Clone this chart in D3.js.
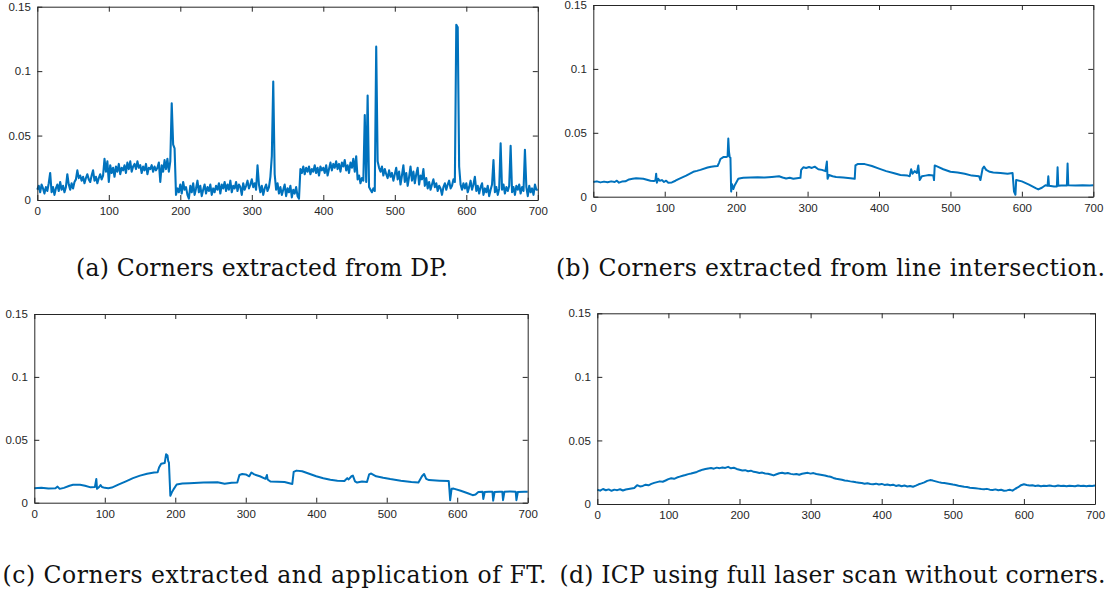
<!DOCTYPE html>
<html>
<head>
<meta charset="utf-8">
<script src="https://cdn.jsdelivr.net/npm/d3@7/dist/d3.min.js"></script>
<style>
  body { margin: 0; background: #fff; }
  svg { display: block; }
  .caption { font-family: "DejaVu Serif", serif; }
  .tick text { font-family: "Liberation Sans", Arial, Helvetica, sans-serif; }
</style>
</head>
<body>
<svg id="chart" width="1110" height="596"></svg>
<script>
// axis ticks shared by the four panels
var xTicks = [0, 100, 200, 300, 400, 500, 600, 700];
var yTicks = [0, 0.05, 0.1, 0.15];
var yTickLabels = ["0", "0.05", "0.1", "0.15"];

var captions = [
  "(a) Corners extracted from DP.",
  "(b) Corners extracted from line intersection.",
  "(c) Corners extracted and application of FT.",
  "(d) ICP using full laser scan without corners."
];

// (a) one value every 2 scans
var dpStep = 2;
var dpError = [
  0.008, 0.011, 0.006, 0.012, 0.009, 0.005, 0.010, 0.007, 0.013, 0.021,
  0.006, 0.010, 0.004, 0.009, 0.012, 0.007, 0.014, 0.008, 0.011, 0.006,
  0.010, 0.020, 0.012, 0.008, 0.013, 0.009, 0.014, 0.016, 0.023, 0.017,
  0.019, 0.015, 0.018, 0.013, 0.017, 0.020, 0.016, 0.014, 0.019, 0.023,
  0.015, 0.018, 0.013, 0.017, 0.020, 0.016, 0.019, 0.032, 0.022, 0.030,
  0.014, 0.027, 0.021, 0.025, 0.018, 0.026, 0.022, 0.028, 0.020, 0.025,
  0.023, 0.027, 0.021, 0.029, 0.024, 0.030, 0.022, 0.026, 0.028, 0.024,
  0.030, 0.025, 0.027, 0.021, 0.026, 0.023, 0.028, 0.020, 0.025, 0.024,
  0.027, 0.022, 0.026, 0.023, 0.025, 0.029, 0.014, 0.027, 0.022, 0.031,
  0.024, 0.032, 0.022, 0.030, 0.075, 0.043, 0.040, 0.004, 0.009, 0.006,
  0.012, 0.005, 0.014, 0.008, 0.010, 0.004, 0.001, 0.011, 0.006, 0.013,
  0.004, 0.009, 0.015, 0.006, 0.011, 0.003, 0.008, 0.012, 0.005, 0.010,
  0.007, 0.012, 0.004, 0.009, 0.006, 0.011, 0.008, 0.013, 0.005, 0.012,
  0.009, 0.014, 0.007, 0.012, 0.008, 0.015, 0.006, 0.011, 0.009, 0.014,
  0.007, 0.012, 0.010, 0.004, 0.013, 0.008, 0.011, 0.015, 0.009, 0.012,
  0.016, 0.010, 0.013, 0.008, 0.027, 0.012, 0.006, 0.011, 0.004, 0.009,
  0.012, 0.007, 0.010, 0.018, 0.034, 0.092, 0.020, 0.008, 0.013, 0.005,
  0.010, 0.004, 0.008, 0.012, 0.003, 0.009, 0.006, 0.011, 0.002, 0.008,
  0.005, 0.010, 0.003, 0.001, 0.024, 0.021, 0.026, 0.020, 0.025, 0.022,
  0.026, 0.020, 0.024, 0.022, 0.027, 0.021, 0.025, 0.019, 0.026, 0.023,
  0.025, 0.021, 0.027, 0.019, 0.024, 0.029, 0.023, 0.028, 0.025, 0.030,
  0.024, 0.028, 0.022, 0.029, 0.026, 0.031, 0.023, 0.027, 0.021, 0.029,
  0.025, 0.032, 0.022, 0.034, 0.016, 0.019, 0.013, 0.017, 0.015, 0.066,
  0.014, 0.081, 0.010, 0.008, 0.006, 0.009, 0.007, 0.119, 0.030, 0.025,
  0.022, 0.026, 0.019, 0.024, 0.020, 0.017, 0.023, 0.018, 0.021, 0.015,
  0.020, 0.025, 0.016, 0.022, 0.012, 0.019, 0.027, 0.014, 0.021, 0.011,
  0.018, 0.026, 0.015, 0.022, 0.013, 0.020, 0.025, 0.012, 0.019, 0.016,
  0.024, 0.011, 0.017, 0.009, 0.014, 0.008, 0.012, 0.016, 0.010, 0.013,
  0.007, 0.011, 0.009, 0.004, 0.010, 0.013, 0.008, 0.012, 0.015, 0.009,
  0.011, 0.016, 0.014, 0.136, 0.134, 0.026, 0.012, 0.008, 0.013, 0.009,
  0.013, 0.006, 0.010, 0.015, 0.008, 0.012, 0.018, 0.007, 0.011, 0.005,
  0.010, 0.013, 0.004, 0.009, 0.006, 0.011, 0.003, 0.008, 0.012, 0.031,
  0.006, 0.010, 0.004, 0.009, 0.044, 0.008, 0.012, 0.005, 0.010, 0.007,
  0.011, 0.042, 0.006, 0.010, 0.004, 0.011, 0.008, 0.012, 0.005, 0.010,
  0.007, 0.039, 0.010, 0.003, 0.011, 0.006, 0.009, 0.004, 0.012, 0.008,
  0.008
];

// (b) [scan, error]
var lineInterPoints = [
  [0,0.0115],[5,0.012],[10,0.0112],[15,0.0118],[20,0.0113],[25,0.012],[30,0.0115],
  [33,0.0125],[36,0.011],[40,0.0118],[45,0.012],[50,0.0135],[55,0.014],[60,0.0145],
  [65,0.0143],[70,0.014],[75,0.0133],[80,0.0125],[85,0.0123],[87,0.0128],[88,0.018],
  [89,0.011],[91,0.014],[93,0.0125],[96,0.013],[99,0.0115],[102,0.0125],[105,0.011],
  [110,0.0112],[115,0.0125],[120,0.014],[130,0.0165],[140,0.0195],[145,0.0202],
  [150,0.021],[160,0.0228],[165,0.0235],[170,0.0238],[174,0.024],[176,0.0265],
  [178,0.0295],[182,0.031],[186,0.031],[188,0.0315],[189,0.0455],[190,0.035],
  [191,0.031],[192,0.0305],[193,0.004],[194,0.010],[196,0.006],[198,0.009],
  [200,0.011],[203,0.014],[206,0.0145],[210,0.0148],[220,0.015],[230,0.0152],
  [240,0.015],[250,0.0155],[260,0.016],[265,0.015],[270,0.0142],[275,0.0148],
  [280,0.014],[285,0.0145],[290,0.0148],[291,0.021],[294,0.023],[298,0.0225],
  [302,0.0232],[306,0.0225],[310,0.0235],[315,0.0215],[320,0.021],[325,0.02],
  [327,0.0275],[328,0.014],[330,0.017],[335,0.016],[340,0.0155],[350,0.015],
  [360,0.0145],[366,0.014],[367,0.0245],[370,0.0255],[380,0.0255],[390,0.024],
  [400,0.022],[410,0.02],[420,0.0185],[430,0.017],[440,0.0165],[443,0.016],
  [445,0.0215],[447,0.018],[450,0.02],[453,0.0185],[455,0.0245],[457,0.013],
  [460,0.016],[465,0.0165],[470,0.017],[476,0.0165],[477,0.013],[478,0.0245],
  [482,0.0235],[490,0.0215],[500,0.0195],[510,0.019],[520,0.018],[530,0.0165],
  [540,0.016],[542,0.013],[545,0.022],[547,0.0235],[550,0.021],[555,0.0195],
  [560,0.019],[570,0.0185],[580,0.018],[587,0.0185],[589,0.004],[591,0.0015],
  [592,0.013],[600,0.012],[610,0.0095],[620,0.0065],[623,0.0057],[628,0.007],
  [633,0.009],[636,0.0085],[637,0.016],[638,0.0085],[645,0.008],[649,0.008],
  [650,0.023],[651,0.0085],[655,0.0088],[663,0.0088],[664,0.026],[665,0.009],
  [675,0.0088],[685,0.009],[695,0.0088],[700,0.009]
];

// (c) [scan, error]
var ftPoints = [
  [0,0.0115],[10,0.0118],[20,0.0112],[30,0.0115],[33,0.0128],[36,0.011],[42,0.0118],
  [50,0.0135],[55,0.0142],[65,0.0143],[72,0.0135],[80,0.0122],[86,0.0125],[88,0.0188],
  [89,0.011],[92,0.0125],[94,0.014],[96,0.0125],[100,0.0118],[105,0.0115],[110,0.012],
  [120,0.0145],[130,0.017],[140,0.0195],[150,0.0215],[160,0.023],[170,0.024],
  [175,0.0242],[177,0.028],[180,0.031],[185,0.0315],[187,0.0385],[189,0.0375],
  [190,0.033],[191,0.032],[193,0.0055],[195,0.008],[198,0.011],[202,0.0145],
  [210,0.0152],[220,0.0155],[240,0.016],[260,0.0162],[270,0.015],[280,0.0158],
  [288,0.016],[291,0.022],[295,0.0228],[300,0.0225],[305,0.021],[308,0.024],
  [312,0.0225],[320,0.021],[328,0.019],[330,0.022],[331,0.0185],[335,0.0168],
  [345,0.0167],[355,0.0165],[366,0.0148],[368,0.0245],[372,0.0255],[380,0.025],
  [390,0.023],[400,0.021],[410,0.0195],[420,0.0182],[430,0.0175],[440,0.0172],
  [444,0.0195],[446,0.0185],[450,0.021],[452,0.0215],[455,0.017],[458,0.016],
  [465,0.0168],[472,0.0165],[475,0.0225],[478,0.0232],[485,0.021],[495,0.0198],
  [505,0.0188],[520,0.0175],[535,0.0165],[545,0.016],[550,0.021],[553,0.0228],
  [556,0.019],[560,0.018],[575,0.0175],[588,0.0172],[589,0.010],[590,0.002],
  [592,0.011],[595,0.0112],[605,0.0095],[615,0.0075],[622,0.006],[626,0.0065],
  [630,0.0085],[636,0.0088],[637,0.003],[639,0.0085],[645,0.0087],[650,0.0087],
  [651,0.0016],[653,0.0085],[660,0.0088],[664,0.0088],[665,0.002],[667,0.0088],
  [675,0.009],[683,0.0088],[684,0.002],[686,0.0085],[695,0.0088],[700,0.0088]
];

// (d) one value every 4 scans
var icpStep = 4;
var icpError = [
  0.0112, 0.0105, 0.0118, 0.0108, 0.0115, 0.0104, 0.0113, 0.0109, 0.0116, 0.0106,
  0.0114, 0.0118, 0.0122, 0.0126, 0.0148, 0.0138, 0.0142, 0.0152, 0.0147, 0.0158,
  0.0166, 0.0172, 0.0178, 0.0175, 0.0185, 0.0196, 0.0203, 0.0198, 0.0208, 0.0215,
  0.0222, 0.0228, 0.0235, 0.0240, 0.0246, 0.0252, 0.0262, 0.0270, 0.0275, 0.0280,
  0.0283, 0.0278, 0.0286, 0.0282, 0.0287, 0.0284, 0.0292, 0.0281, 0.0285, 0.0276,
  0.0270, 0.0264, 0.0266, 0.0258, 0.0262, 0.0253, 0.0250, 0.0244, 0.0247, 0.0240,
  0.0238, 0.0232, 0.0225, 0.0234, 0.0242, 0.0246, 0.0240, 0.0244, 0.0237, 0.0233,
  0.0236, 0.0230, 0.0238, 0.0242, 0.0245, 0.0239, 0.0243, 0.0236, 0.0232, 0.0228,
  0.0224, 0.0218, 0.0214, 0.0205, 0.0198, 0.0194, 0.0190, 0.0185, 0.0182, 0.0178,
  0.0175, 0.0171, 0.0168, 0.0165, 0.0160, 0.0163, 0.0158, 0.0155, 0.0160, 0.0154,
  0.0158, 0.0150, 0.0154, 0.0147, 0.0152, 0.0142, 0.0148, 0.0140, 0.0145, 0.0138,
  0.0142, 0.0136, 0.0145, 0.0155, 0.0162, 0.0170, 0.0182, 0.0188, 0.0184, 0.0178,
  0.0172, 0.0168, 0.0165, 0.0162, 0.0158, 0.0153, 0.0150, 0.0144, 0.0140, 0.0136,
  0.0133, 0.0128, 0.0126, 0.0124, 0.0121, 0.0118, 0.0116, 0.0119, 0.0113, 0.0110,
  0.0115, 0.0108, 0.0112, 0.0104, 0.0107, 0.0112, 0.0105, 0.0120, 0.0132, 0.0148,
  0.0155, 0.0150, 0.0146, 0.0148, 0.0142, 0.0145, 0.0140, 0.0144, 0.0141, 0.0146,
  0.0142, 0.0140, 0.0145, 0.0141, 0.0143, 0.0139, 0.0144, 0.0142, 0.0140, 0.0145,
  0.0141, 0.0143, 0.0139, 0.0144, 0.0142, 0.0145
];

function stepped(values, step) {
  return values.map(function(v, i) { return [i * step, v]; });
}

var panels = [
  {data: stepped(dpError, dpStep), box: [37.3, 6.7, 537.8, 200], lw: 2.1,
   caption: captions[0], cx: 262, cy: 276, cw: 372},
  {data: lineInterPoints, box: [593.3, 5, 1093.3, 196.7], lw: 2,
   caption: captions[1], cx: 830.5, cy: 276, cw: 549},
  {data: ftPoints, box: [34.3, 314, 527.7, 502.7], lw: 2,
   caption: captions[2], cx: 274.5, cy: 583, cw: 544},
  {data: stepped(icpError, icpStep), box: [597.3, 313.3, 1095, 504], lw: 2,
   caption: captions[3], cx: 832.5, cy: 583, cw: 546}
];

var svg = d3.select("#chart");
var axisColor = "#262626";

panels.forEach(function(p) {
  var x = d3.scaleLinear().domain([0, 700]).range([p.box[0], p.box[2]]);
  var y = d3.scaleLinear().domain([0, 0.15]).range([p.box[3], p.box[1]]);
  var g = svg.append("g");

  var line = d3.line()
    .x(function(d) { return x(d[0]); })
    .y(function(d) { return y(d[1]); });

  g.append("path")
    .datum(p.data)
    .attr("fill", "none")
    .attr("stroke", "#0072BD")
    .attr("stroke-width", p.lw)
    .attr("stroke-linejoin", "round")
    .attr("d", line);

  var bottom = g.append("g")
    .attr("transform", "translate(0," + p.box[3] + ")")
    .call(d3.axisBottom(x).tickValues(xTicks).tickSizeInner(-5).tickSizeOuter(0).tickPadding(7.3));
  var left = g.append("g")
    .attr("transform", "translate(" + p.box[0] + ",0)")
    .call(d3.axisLeft(y).tickValues(yTicks).tickSizeInner(-5).tickSizeOuter(0).tickPadding(6.5)
      .tickFormat(function(d, i) { return yTickLabels[i]; }));
  var top = g.append("g")
    .attr("transform", "translate(0," + p.box[1] + ")")
    .call(d3.axisTop(x).tickValues(xTicks).tickSizeInner(-5).tickSizeOuter(0).tickFormat(""));
  var right = g.append("g")
    .attr("transform", "translate(" + p.box[2] + ",0)")
    .call(d3.axisRight(y).tickValues(yTicks).tickSizeInner(-5).tickSizeOuter(0).tickFormat(""));

  [bottom, left, top, right].forEach(function(a) {
    a.attr("font-family", null).attr("font-size", null);
    a.selectAll("path.domain").attr("stroke", axisColor).attr("stroke-width", 1);
    a.selectAll(".tick line").attr("stroke", axisColor).attr("stroke-width", 1);
    a.selectAll("text")
      .attr("fill", axisColor)
      .attr("font-size", 11.5);
  });

  svg.append("text")
    .attr("class", "caption")
    .attr("x", p.cx)
    .attr("y", p.cy)
    .attr("text-anchor", "middle")
    .attr("textLength", p.cw)
    .attr("lengthAdjust", "spacing")
    .attr("font-size", 23.5)
    .attr("fill", "#111")
    .text(p.caption);
});
</script>
</body>
</html>
